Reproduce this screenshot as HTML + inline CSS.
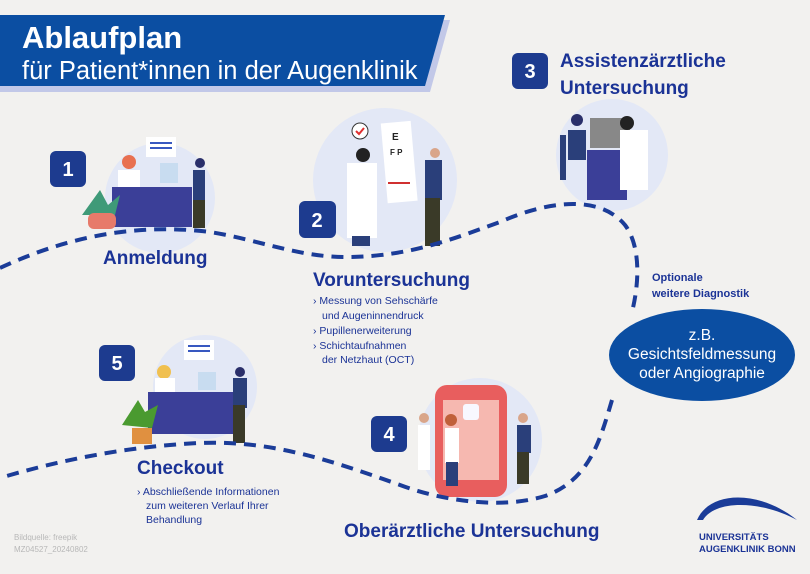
<!DOCTYPE html>
<html><head><meta charset="utf-8"><style>
html,body{margin:0;padding:0;background:#f2f1ef;}
svg{display:block;font-family:"Liberation Sans",sans-serif;}
</style></head><body>
<svg width="810" height="574" viewBox="0 0 810 574" xmlns="http://www.w3.org/2000/svg">
<rect width="810" height="574" fill="#f2f1ef"/>
<!-- banner -->
<polygon points="0,20 450,20 430,92 0,92" fill="#c2c8e8"/>
<polygon points="0,15 445,15 425,86 0,86" fill="#0b4ea2"/>
<text x="22" y="48" fill="#fff" font-size="31" font-weight="bold">Ablaufplan</text>
<text x="22" y="79" fill="#fff" font-size="25.5">für Patient*innen in der Augenklinik</text>

<!-- illustration circles -->
<circle cx="160" cy="198" r="55" fill="#e3e8f6"/>
<circle cx="385" cy="180" r="72" fill="#e3e8f6"/>
<circle cx="612" cy="155" r="56" fill="#e3e8f6"/>
<circle cx="480" cy="440" r="62" fill="#e3e8f6"/>
<circle cx="205" cy="387" r="52" fill="#e3e8f6"/>

<!-- scene 1 -->
<rect x="146" y="137" width="30" height="20" fill="#fff"/>
<rect x="150" y="142" width="22" height="2" fill="#3858c0"/><rect x="150" y="147" width="22" height="2" fill="#3858c0"/>
<circle cx="129" cy="162" r="7" fill="#e87050"/>
<rect x="118" y="170" width="22" height="18" fill="#fff"/>
<rect x="160" y="163" width="18" height="20" fill="#c8dcf0"/>
<rect x="112" y="187" width="80" height="40" fill="#3b3f98"/>
<rect x="193" y="170" width="12" height="30" fill="#2a3f7a"/>
<rect x="193" y="200" width="12" height="28" fill="#3a3a28"/>
<circle cx="200" cy="163" r="5" fill="#2a2f6a"/>
<path d="M82 215 L100 190 L108 205 L120 195 L115 215 Z" fill="#3f9a78"/>
<rect x="88" y="213" width="28" height="16" rx="6" fill="#e77a6a"/>

<!-- scene 2 -->
<circle cx="360" cy="131" r="8" fill="#fff" stroke="#333" stroke-width="1"/>
<path d="M356 131 l3 3 l5 -6" stroke="#e03030" stroke-width="2" fill="none"/>
<rect x="384" y="122" width="30" height="80" fill="#fff" transform="rotate(-5 400 160)"/>
<text x="392" y="140" font-size="10" font-weight="bold" fill="#222">E</text>
<text x="390" y="155" font-size="8" font-weight="bold" fill="#222">F P</text>
<rect x="388" y="182" width="22" height="2" fill="#d03030"/>
<circle cx="363" cy="155" r="7" fill="#222"/>
<rect x="347" y="163" width="30" height="75" fill="#fff"/>
<rect x="352" y="236" width="18" height="10" fill="#2a3f7a"/>
<circle cx="435" cy="153" r="5" fill="#d9a58a"/>
<rect x="425" y="160" width="17" height="40" fill="#2a3f7a"/>
<rect x="425" y="198" width="15" height="48" fill="#3a3a28"/>

<!-- scene 3 -->
<rect x="590" y="118" width="40" height="30" fill="#888"/>
<rect x="568" y="130" width="18" height="30" fill="#2a3f7a"/>
<circle cx="577" cy="120" r="6" fill="#2a2f6a"/>
<rect x="560" y="135" width="6" height="45" fill="#2a3f7a"/>
<rect x="587" y="150" width="40" height="50" fill="#3b3f98"/>
<rect x="620" y="130" width="28" height="60" fill="#fff"/>
<circle cx="627" cy="123" r="7" fill="#222"/>

<!-- scene 4 -->
<rect x="435" y="385" width="72" height="112" rx="12" fill="#e85e5e"/>
<rect x="443" y="400" width="56" height="80" fill="#f6b8b0"/>
<rect x="463" y="404" width="16" height="16" rx="3" fill="#f8f8ff"/>
<rect x="418" y="425" width="12" height="45" fill="#fff"/>
<circle cx="424" cy="418" r="5" fill="#d9a58a"/>
<rect x="445" y="428" width="14" height="35" fill="#fff"/>
<rect x="446" y="462" width="12" height="24" fill="#2a3f7a"/>
<circle cx="451" cy="420" r="6" fill="#c0603a"/>
<rect x="517" y="425" width="14" height="28" fill="#2a3f7a"/>
<rect x="517" y="452" width="12" height="32" fill="#3a3a28"/>
<circle cx="523" cy="418" r="5" fill="#d9a58a"/>

<!-- scene 5 -->
<rect x="184" y="340" width="30" height="20" fill="#fff"/>
<rect x="188" y="345" width="22" height="2" fill="#3858c0"/><rect x="188" y="350" width="22" height="2" fill="#3858c0"/>
<circle cx="164" cy="372" r="7" fill="#f0c050"/>
<rect x="155" y="378" width="20" height="16" fill="#fff"/>
<rect x="198" y="372" width="18" height="18" fill="#c8dcf0"/>
<rect x="148" y="392" width="85" height="42" fill="#3b3f98"/>
<rect x="233" y="378" width="14" height="30" fill="#2a3f7a"/>
<rect x="233" y="405" width="12" height="38" fill="#3a3a28"/>
<circle cx="240" cy="372" r="5" fill="#2a2f6a"/>
<path d="M122 425 L138 400 L145 412 L158 405 L152 428 Z" fill="#4a9a30"/>
<rect x="132" y="428" width="20" height="16" fill="#e09040"/>

<!-- dashed path -->
<g fill="none" stroke="#1b3c98" stroke-width="4" stroke-dasharray="12 8">
<path d="M0 268 C60 240 130 222 210 232 C260 240 300 258 350 257 C410 256 450 240 500 222 C550 200 600 195 625 225 C640 245 640 280 632 312"/>
<path d="M612 400 C600 440 590 480 545 496 C500 510 440 500 400 485 C330 460 270 440 200 443 C130 446 60 460 0 478"/>
</g>

<!-- ellipse -->
<ellipse cx="702" cy="355" rx="93" ry="46" fill="#0b4ea2"/>
<g fill="#fff" font-size="15.5" text-anchor="middle">
<text x="702" y="340">z.B.</text>
<text x="702" y="359">Gesichtsfeldmessung</text>
<text x="702" y="378">oder Angiographie</text>
</g>
<g fill="#1b3396" font-size="11" font-weight="bold">
<text x="652" y="281">Optionale</text>
<text x="652" y="297">weitere Diagnostik</text>
</g>

<!-- number boxes -->
<g fill="#1d3b8f">
<rect x="50" y="151" width="36" height="36" rx="6"/>
<rect x="299" y="201" width="37" height="37" rx="6"/>
<rect x="512" y="53" width="36" height="36" rx="6"/>
<rect x="371" y="416" width="36" height="36" rx="6"/>
<rect x="99" y="345" width="36" height="36" rx="6"/>
</g>
<g fill="#fff" font-size="20" font-weight="bold" text-anchor="middle">
<text x="68" y="176">1</text>
<text x="317" y="227">2</text>
<text x="530" y="78">3</text>
<text x="389" y="441">4</text>
<text x="117" y="370">5</text>
</g>

<!-- headings -->
<g fill="#1b3396" font-size="19" font-weight="bold">
<text x="103" y="264">Anmeldung</text>
<text x="313" y="286">Voruntersuchung</text>
<text x="560" y="67">Assistenzärztliche</text>
<text x="560" y="94">Untersuchung</text>
<text x="137" y="474">Checkout</text>
<text x="344" y="537">Oberärztliche Untersuchung</text>
</g>
<g fill="#1b3396" font-size="10.5">
<text x="313" y="304">› Messung von Sehschärfe</text>
<text x="322" y="319">und Augeninnendruck</text>
<text x="313" y="334">› Pupillenerweiterung</text>
<text x="313" y="349">› Schichtaufnahmen</text>
<text x="322" y="363">der Netzhaut (OCT)</text>
<text x="137" y="495">› Abschließende Informationen</text>
<text x="146" y="509">zum weiteren Verlauf Ihrer</text>
<text x="146" y="523">Behandlung</text>
</g>
<g fill="#b8b8b8" font-size="8">
<text x="14" y="540">Bildquelle: freepik</text>
<text x="14" y="552">MZ04527_20240802</text>
</g>

<!-- logo -->
<path d="M697 520 C710 490 760 490 797 520 C760 500 715 500 703 520 Z" fill="#1b3c98"/>
<g fill="#1b3396" font-size="9.5" font-weight="bold">
<text x="699" y="540">UNIVERSITÄTS</text>
<text x="699" y="552">AUGENKLINIK BONN</text>
</g>
</svg>
</body></html>
